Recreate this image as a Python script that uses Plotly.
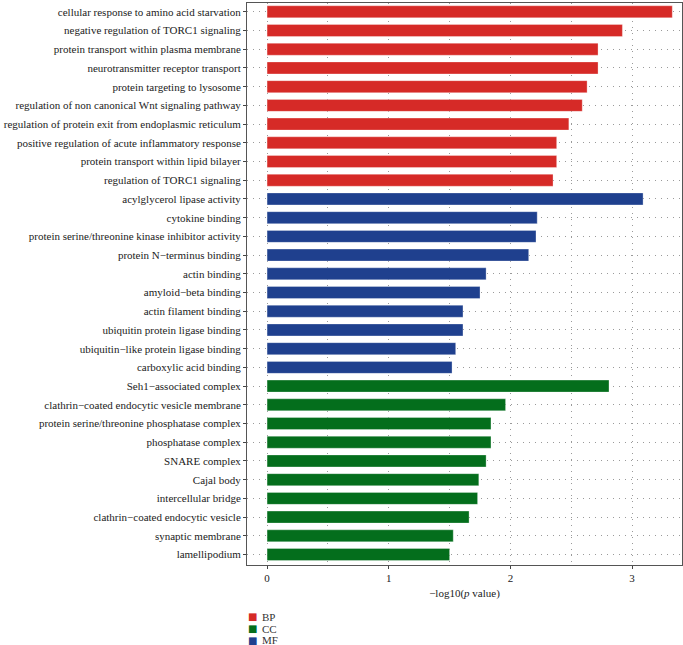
import plotly.graph_objects as go

terms = [
    "cellular response to amino acid starvation",
    "negative regulation of TORC1 signaling",
    "protein transport within plasma membrane",
    "neurotransmitter receptor transport",
    "protein targeting to lysosome",
    "regulation of non canonical Wnt signaling pathway",
    "regulation of protein exit from endoplasmic reticulum",
    "positive regulation of acute inflammatory response",
    "protein transport within lipid bilayer",
    "regulation of TORC1 signaling",
    "acylglycerol lipase activity",
    "cytokine binding",
    "protein serine/threonine kinase inhibitor activity",
    "protein N\u2212terminus binding",
    "actin binding",
    "amyloid\u2212beta binding",
    "actin filament binding",
    "ubiquitin protein ligase binding",
    "ubiquitin\u2212like protein ligase binding",
    "carboxylic acid binding",
    "Seh1\u2212associated complex",
    "clathrin\u2212coated endocytic vesicle membrane",
    "protein serine/threonine phosphatase complex",
    "phosphatase complex",
    "SNARE complex",
    "Cajal body",
    "intercellular bridge",
    "clathrin\u2212coated endocytic vesicle",
    "synaptic membrane",
    "lamellipodium",
]
values = [3.33, 2.92, 2.72, 2.72, 2.63, 2.59, 2.48, 2.38, 2.38, 2.35,
          3.09, 2.22, 2.21, 2.15, 1.80, 1.75, 1.61, 1.61, 1.55, 1.52,
          2.81, 1.96, 1.84, 1.84, 1.80, 1.74, 1.73, 1.66, 1.53, 1.50]
groups = ["BP"] * 10 + ["MF"] * 10 + ["CC"] * 10
colors = {"BP": "#D62A27", "CC": "#046E1C", "MF": "#1F408E"}
legend_order = ["BP", "CC", "MF"]
x_ticks = [0, 1, 2, 3]

FONT = "Liberation Serif"
FS = 11
GRID = "#9a9a9a"
DOT = "1px,5px"

fig = go.Figure()
for g in legend_order:
    xs = [v for v, gg in zip(values, groups) if gg == g]
    ys = [t for t, gg in zip(terms, groups) if gg == g]
    fig.add_trace(go.Bar(
        x=xs, y=ys, orientation="h", name=g,
        marker=dict(color=colors[g], line=dict(width=0.6, color="rgba(255,255,255,0.5)")),
        width=0.64, showlegend=False,
    ))

# compact legend (key squares + labels) below the plot
for i, g in enumerate(legend_order):
    yy = -0.0925 - i * 0.0205
    fig.add_annotation(xref="paper", yref="paper", x=-0.003, y=yy,
                       xanchor="left", yanchor="middle", showarrow=False,
                       text=f"<span style='color:{colors[g]}'>\u25A0</span>",
                       font=dict(family="DejaVu Sans", size=10))
    fig.add_annotation(xref="paper", yref="paper", x=0.030, y=yy,
                       xanchor="left", yanchor="middle", showarrow=False,
                       text=g, font=dict(family=FONT, size=FS, color="#333"))

fig.update_layout(
    width=683, height=645,
    margin=dict(l=247, r=1, t=3, b=80, autoexpand=False),
    plot_bgcolor="white", paper_bgcolor="white",
    font=dict(family=FONT, size=FS, color="#222"),
)
fig.update_xaxes(
    range=[-0.165, 3.41], tickvals=x_ticks, ticks="outside", ticklen=3,
    tickcolor="#444", showline=True, linecolor="#555", linewidth=1, mirror=True,
    showgrid=True, gridcolor=GRID, griddash=DOT, gridwidth=1,
    minor=dict(dtick=0.5, tick0=0, showgrid=True, gridcolor=GRID, griddash=DOT, ticklen=0),
    zeroline=False,
    title=dict(text="\u2212log10(<i>p</i> value)", font=dict(family=FONT, size=FS), standoff=6),
    tickfont=dict(family=FONT, size=FS),
)
fig.update_yaxes(
    categoryorder="array", categoryarray=terms,
    ticks="outside", ticklen=3, tickcolor="#444",
    showline=True, linecolor="#555", linewidth=1, mirror=True,
    showgrid=True, gridcolor=GRID, griddash=DOT, gridwidth=1,
    range=[len(terms) - 0.44, -0.47],
    tickfont=dict(family=FONT, size=FS),
)
fig.write_html("out.html", config={"displayModeBar": False},
               post_script="document.body.style.margin='0';")
